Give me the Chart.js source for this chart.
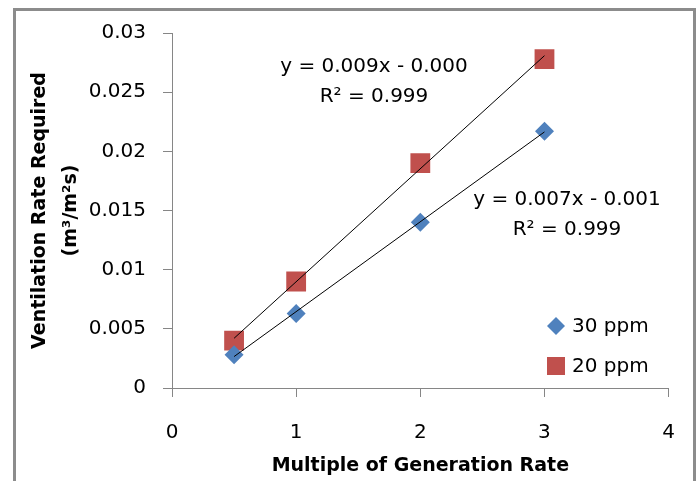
<!DOCTYPE html>
<html lang="en">
<head>
  <meta charset="UTF-8">
  <title>Ventilation Rate Required</title>
  <style>
    body {
      margin: 0;
      background-color: white;
      overflow: hidden;
    }
    .frame {
      position: absolute;
      left: 13px;
      top: 8px;
      width: 677px;
      height: 500px;
      border: 3px solid #8c8c8c;
    }
    .wrap {
      position: absolute;
      left: 0;
      top: 0;
      width: 699px;
      height: 481px;
    }
  </style>
  <script src="https://cdn.jsdelivr.net/npm/chart.js"></script>
</head>
<body>
  <div class="frame"></div>
  <div class="wrap"><canvas id="ventChart" width="699" height="481"></canvas></div>

  <script>
    // values
    const generationMultiples = [0.5, 1, 2, 3];
    const rate30ppm = [0.0028, 0.0063, 0.0140, 0.0217];
    const rate20ppm = [0.0040, 0.0090, 0.0190, 0.0278];
    const seriesNames = ['30 ppm', '20 ppm'];
    const equations30 = ['y = 0.007x - 0.001', 'R\u00b2 = 0.999'];
    const equations20 = ['y = 0.009x - 0.000', 'R\u00b2 = 0.999'];

    const FONT = "'DejaVu Sans', sans-serif";
    const blue = '#4f81bd';
    const red = '#c0504d';

    // least squares trendline between first and last x
    function trend(xs, ys) {
      const n = xs.length;
      const mx = xs.reduce((a, b) => a + b, 0) / n;
      const my = ys.reduce((a, b) => a + b, 0) / n;
      let sxy = 0, sxx = 0;
      for (let i = 0; i < n; i++) {
        sxy += (xs[i] - mx) * (ys[i] - my);
        sxx += (xs[i] - mx) * (xs[i] - mx);
      }
      const m = sxy / sxx;
      const b = my - m * mx;
      const x0 = xs[0], x1 = xs[n - 1];
      return [{x: x0, y: m * x0 + b}, {x: x1, y: m * x1 + b}];
    }

    const pts = (ys) => generationMultiples.map((x, i) => ({x: x, y: ys[i]}));

    // equation labels + legend
    const extras = {
      id: 'extras',
      afterDraw(chart) {
        const c = chart.ctx;
        c.save();
        c.font = '20px ' + FONT;
        c.fillStyle = '#000';
        c.textAlign = 'center';
        c.textBaseline = 'middle';
        c.fillText(equations20[0], 374, 67);
        c.fillText(equations20[1], 374, 97);
        c.fillText(equations30[0], 567, 200);
        c.fillText(equations30[1], 567, 230);

        // legend
        c.fillStyle = blue;
        c.beginPath();
        c.moveTo(556, 317); c.lineTo(565, 326); c.lineTo(556, 335); c.lineTo(547, 326);
        c.closePath();
        c.fill();
        c.fillStyle = red;
        c.fillRect(547, 357, 18, 18);
        c.fillStyle = '#000';
        c.textAlign = 'left';
        c.fillText(seriesNames[0], 572, 327);
        c.fillText(seriesNames[1], 572, 367);
        c.restore();
      }
    };

    const ctx = document.getElementById('ventChart').getContext('2d');
    const ventChart = new Chart(ctx, {
      type: 'scatter',
      data: {
        datasets: [{
          label: seriesNames[0] + ' trend',
          type: 'line',
          data: trend(generationMultiples, rate30ppm),
          borderColor: '#000',
          borderWidth: 1,
          pointRadius: 0,
          fill: false
        }, {
          label: seriesNames[1] + ' trend',
          type: 'line',
          data: trend(generationMultiples, rate20ppm),
          borderColor: '#000',
          borderWidth: 1,
          pointRadius: 0,
          fill: false
        }, {
          label: seriesNames[0],
          data: pts(rate30ppm),
          pointStyle: 'rectRot',
          pointRadius: 9.5,
          backgroundColor: blue,
          borderColor: blue,
          borderWidth: 0
        }, {
          label: seriesNames[1],
          data: pts(rate20ppm),
          pointStyle: 'rect',
          pointRadius: 14,
          backgroundColor: red,
          borderColor: red,
          borderWidth: 0
        }]
      },
      options: {
        responsive: false,
        animation: false,
        layout: {
          padding: {left: 0, top: 33, right: 27, bottom: 0}
        },
        scales: {
          x: {
            type: 'linear',
            min: 0,
            max: 4,
            afterFit: (s) => { s.height = 93; },
            ticks: {
              stepSize: 1,
              color: '#000',
              padding: 24,
              font: {family: FONT, size: 20}
            },
            grid: {
              drawOnChartArea: false,
              color: '#868686',
              tickLength: 9
            },
            border: {color: '#868686'},
            title: {
              display: true,
              text: 'Multiple of Generation Rate',
              color: '#000',
              font: {family: FONT, size: 19, weight: 'bold'},
              padding: {top: 3}
            }
          },
          y: {
            min: 0,
            max: 0.03,
            afterFit: (s) => { s.width = 172; },
            ticks: {
              stepSize: 0.005,
              color: '#000',
              padding: 17,
              font: {family: FONT, size: 20},
              callback: (v) => String(Math.round(v * 1000) / 1000)
            },
            grid: {
              drawOnChartArea: false,
              color: '#868686',
              tickLength: 9
            },
            border: {color: '#868686'},
            title: {
              display: true,
              text: ['Ventilation Rate Required', '(m\u00b3/m\u00b2s)'],
              color: '#000',
              font: {family: FONT, size: 19, weight: 'bold', lineHeight: 1.6},
              padding: {top: 25}
            }
          }
        },
        plugins: {
          legend: {display: false},
          tooltip: {enabled: false}
        }
      },
      plugins: [extras]
    });
  </script>
</body>
</html>
